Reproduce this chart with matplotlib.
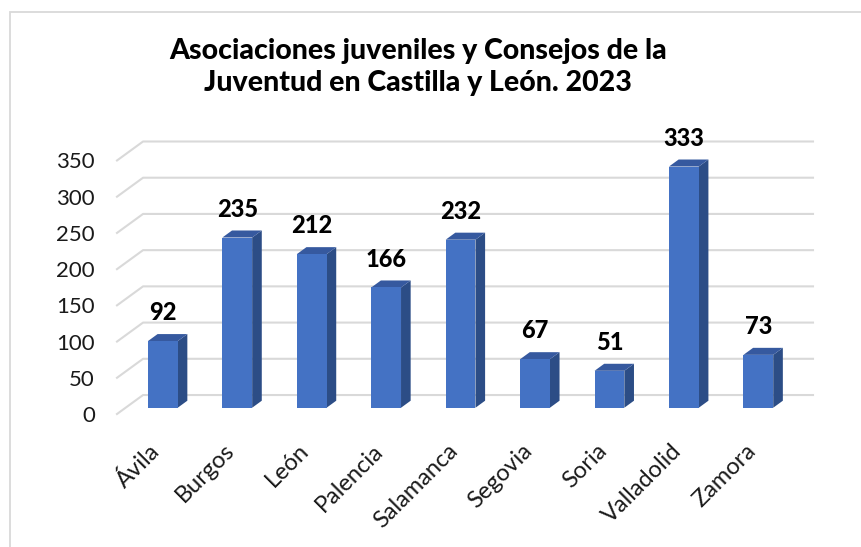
import matplotlib
matplotlib.use("Agg")
import matplotlib.pyplot as plt
import matplotlib.transforms as mtransforms
from matplotlib.patches import Polygon, Rectangle

# Data
provincias = ["Ávila", "Burgos", "León", "Palencia", "Salamanca",
              "Segovia", "Soria", "Valladolid", "Zamora"]
asociaciones = [92, 235, 212, 166, 232, 67, 51, 333, 73]
y_ticks = [0, 50, 100, 150, 200, 250, 300, 350]
titulo = "Asociaciones juveniles y Consejos de la\nJuventud en Castilla y León. 2023"

# Colours
FRONT = "#4472C4"
SIDE = "#2C4D86"
TOP = "#36599F"
GRID = "#D9D9D9"

# Oblique "3D" projection: depth d in [0, 1] shifts x by DX (category units)
# and y by DY (value units)
DX = 0.35
DY = 26.2
BAR_HALF = 0.2
D_FRONT = 0.33
D_BACK = 0.70

W, H = 861, 547
plt.rcParams["font.family"] = ["Lato", "DejaVu Sans"]

fig = plt.figure(figsize=(W / 100, H / 100), dpi=100)
ax = fig.add_axes([117 / W, (H - 414) / H, (813 - 117) / W, (414 - 141.5) / H])
n = len(provincias)
ax.set_xlim(-0.5, n - 0.5 + DX)
ax.set_ylim(0, y_ticks[-1] + DY)
for s in ax.spines.values():
    s.set_visible(False)

# gridlines: slanted floor part + back wall part
for v in y_ticks:
    ax.plot([-0.5, -0.5 + DX, n - 0.5 + DX], [v, v + DY, v + DY],
            color=GRID, lw=1.5, zorder=1, clip_on=False)

# bars
for i, val in enumerate(asociaciones):
    x0 = i - BAR_HALF + D_FRONT * DX
    x1 = i + BAR_HALF + D_FRONT * DX
    b = D_FRONT * DY
    t = val + D_FRONT * DY
    ddx = (D_BACK - D_FRONT) * DX
    ddy = (D_BACK - D_FRONT) * DY
    ax.add_patch(Polygon([(x1, b), (x1 + ddx, b + ddy), (x1 + ddx, t + ddy), (x1, t)],
                         closed=True, fc=SIDE, ec="none", zorder=3))
    ax.add_patch(Polygon([(x0, t), (x1, t), (x1 + ddx, t + ddy), (x0 + ddx, t + ddy)],
                         closed=True, fc=TOP, ec="none", zorder=3))
    ax.add_patch(Polygon([(x0, b), (x1, b), (x1, t), (x0, t)],
                         closed=True, fc=FRONT, ec="none", zorder=4))
    ax.annotate(str(val), xy=((x0 + x1) / 2, t + ddy), xytext=(0, 7),
                textcoords="offset points", ha="center", va="bottom",
                fontsize=17, fontweight="black", color="black", zorder=5)

# y axis labels at the front left edge
ax.set_yticks(y_ticks)
ax.set_yticklabels([str(v) for v in y_ticks], fontsize=16, color="#1a1a1a")
ax.tick_params(axis="y", length=0, pad=16)
ax.set_xticks([])

# category labels, rotated
off = mtransforms.ScaledTranslation(-5 / 100, -26 / 100, fig.dpi_scale_trans)
for i, name in enumerate(provincias):
    ax.text(i, 0, name, rotation=45, ha="right", va="top", rotation_mode="anchor",
            fontsize=17, color="#1a1a1a", transform=ax.transData + off)

fig.text(418 / W, 1 - 67 / H, titulo, ha="center", va="center", fontsize=20.5,
         fontweight="black", linespacing=1.3)

# chart frame
fig.patches.append(Rectangle((9.5 / W, -0.1), 1.2, 1 - 11.5 / H + 0.1,
                             transform=fig.transFigure, fill=False,
                             ec=GRID, lw=1.3))

fig.savefig("out.png", dpi=100)
